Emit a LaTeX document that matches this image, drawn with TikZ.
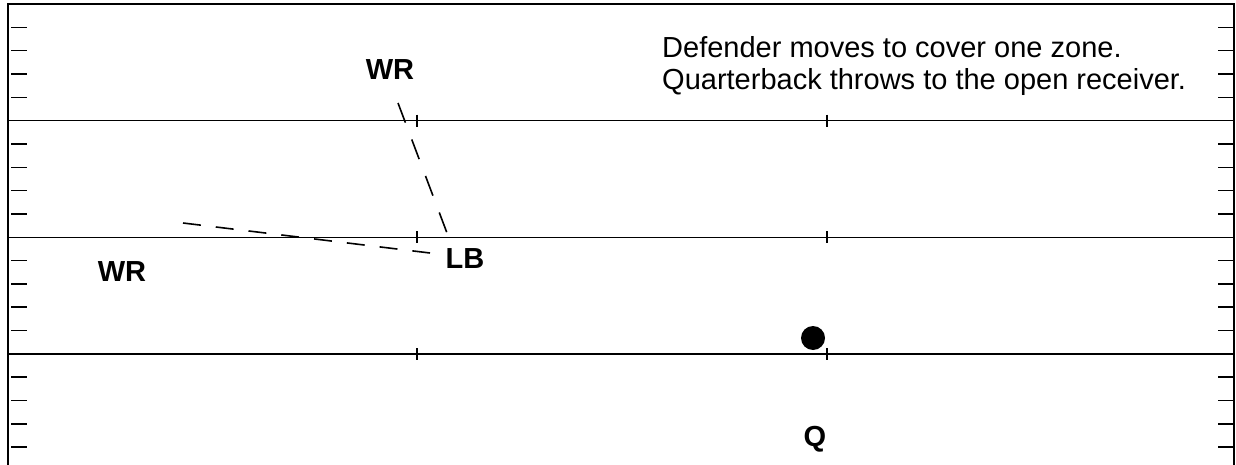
\documentclass[tikz,border=0pt]{standalone}
\usepackage{fontspec}
\setmainfont{Liberation Sans}
\begin{document}
\begin{tikzpicture}[x=1pt,y=-1pt,
  fieldline/.style={line width=1.6pt,black},
  tickline/.style={line width=1.6pt,black},
  route/.style={line width=1.6pt,black},
  player/.style={font=\fontsize{29}{32}\selectfont\bfseries,inner sep=0pt},
  note/.style={font=\fontsize{29}{32}\selectfont,align=left,anchor=north west,inner sep=0pt}]
\useasboundingbox (0,0) rectangle (1236,465);
% border
\draw[fieldline] (8,465) -- (8,4) -- (1234,4) -- (1234,465);
% yard lines
\foreach \y in {120.7,237.3,354} {
  \draw[fieldline] (8,\y) -- (1234,\y);
  \draw[tickline] (417,\y-6) -- (417,\y+6);
  \draw[tickline] (827,\y-6) -- (827,\y+6);
}
% side ticks
\foreach \k in {1,2,3,4,6,7,8,9,11,12,13,14,16,17,18,19} {
  \draw[tickline] (11,4+\k*23.33) -- (27,4+\k*23.33);
  \draw[tickline] (1218,4+\k*23.33) -- (1234,4+\k*23.33);
}
% players
\node[player] (wr1) at (390,70) {WR};
\node[player] (wr2) at (122,272) {WR};
\node[player] (lb) at (465,259) {LB};
\node[player] (q) at (815,439) {Q};
\fill (813,338) circle (12);
\node[note] (txt) at (662,36) {Defender moves to cover one zone.\\Quarterback throws to the open receiver.};
% routes
\coordinate (r1a) at (398,103);
\coordinate (r1b) at (447,233);
\coordinate (r2a) at (183,223);
\coordinate (r2b) at (430,253);
\draw[route,dash pattern=on 21pt off 18pt] (r1a) -- (r1b);
\draw[route,dash pattern=on 18pt off 15pt] (r2a) -- (r2b);
\end{tikzpicture}
\end{document}
